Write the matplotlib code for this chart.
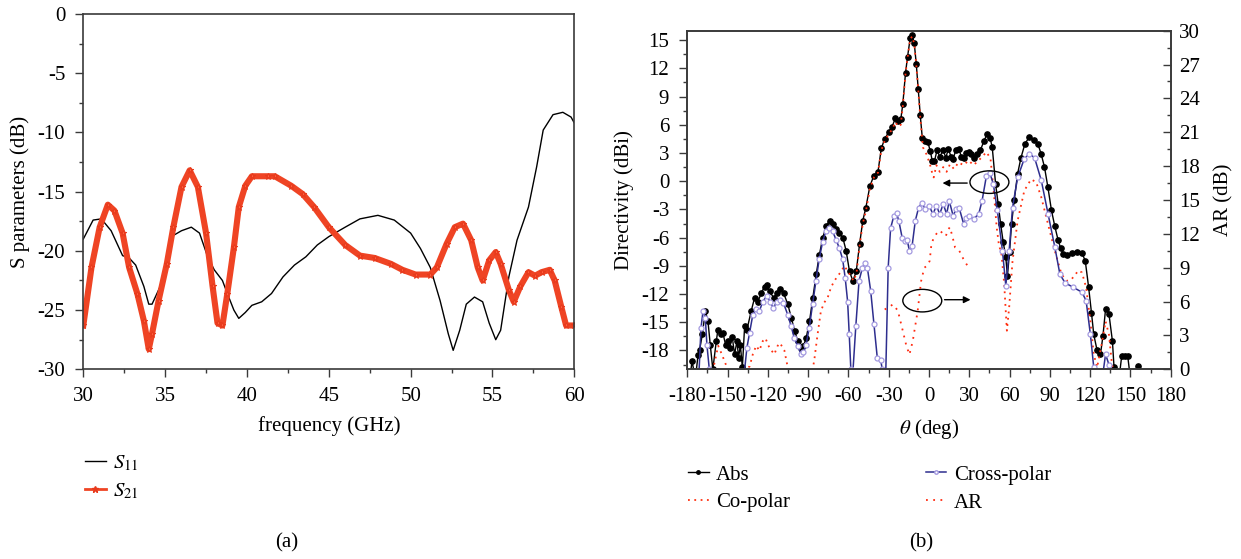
import matplotlib
matplotlib.use("Agg")
import matplotlib.pyplot as plt
from matplotlib.patches import Ellipse
from matplotlib.lines import Line2D
from matplotlib.ticker import MultipleLocator

plt.rcParams['font.family'] = ['Liberation Serif', 'DejaVu Serif']
plt.rcParams['mathtext.fontset'] = 'stix'
plt.rcParams['font.size'] = 15
plt.rcParams['axes.unicode_minus'] = False

# ---------------- data: (a) S parameters ----------------
s11_f = [30, 30.6, 31.1, 31.7, 32.4, 32.8, 33.2, 33.7, 34.0, 34.2, 34.7, 35.2, 35.5, 36.0, 36.6,
         37.1, 37.6, 38.0, 38.5, 38.8, 39.2, 39.5, 39.9, 40.3, 40.9, 41.5, 42.2, 42.9, 43.6, 44.3,
         45.0, 46.0, 46.9, 48.0, 49.0, 50.0, 50.6, 51.2, 51.8, 52.3, 52.6, 53.0, 53.4, 53.9, 54.4,
         54.8, 55.2, 55.5, 56.0, 56.5, 57.2, 57.7, 58.1, 58.7, 59.3, 59.8, 60.0]
s11_db = [-19.0, -17.4, -17.3, -18.3, -20.4, -20.6, -21.2, -23.0, -24.5, -24.5, -23.0, -20.2, -18.7,
          -18.3, -18.0, -18.5, -20.5, -21.6, -22.5, -23.6, -25.0, -25.7, -25.2, -24.6, -24.3, -23.6,
          -22.2, -21.2, -20.5, -19.5, -18.8, -18.0, -17.3, -17.0, -17.4, -18.5, -19.8, -21.4, -24.2,
          -27.0, -28.4, -26.7, -24.5, -23.9, -24.3, -26.1, -27.5, -26.7, -22.2, -19.1, -16.3, -12.9,
          -9.8, -8.5, -8.3, -8.7, -9.2]

s21_f = [30, 30.5, 31.0, 31.5, 31.9, 32.4, 32.8, 33.3, 33.7, 34.0, 34.2, 34.6, 35.1, 35.5, 36.0,
         36.5, 37.0, 37.5, 37.9, 38.2, 38.5, 38.8, 39.2, 39.5, 39.9, 40.3, 41.3, 41.7, 42.7, 43.4,
         44.1, 45.0, 46.0, 46.9, 47.8, 48.8, 49.5, 50.3, 51.2, 51.6, 52.2, 52.7, 53.2, 53.7, 54.1,
         54.4, 54.8, 55.2, 55.5, 56.0, 56.3, 56.7, 57.2, 57.6, 58.0, 58.5, 58.8, 59.2, 59.5, 60.0]
s21_db = [-26.3, -21.4, -18.0, -16.1, -16.6, -18.5, -21.4, -23.6, -25.9, -28.3, -27.0, -24.2, -21.1,
          -18.0, -14.6, -13.2, -14.6, -18.5, -23.0, -26.1, -26.3, -23.6, -19.7, -16.3, -14.5, -13.7,
          -13.7, -13.7, -14.5, -15.2, -16.3, -18.0, -19.5, -20.4, -20.6, -21.1, -21.6, -22.0, -22.0,
          -21.4, -19.4, -18.0, -17.7, -19.1, -21.4, -22.5, -20.8, -20.1, -21.1, -23.3, -24.3, -23.0,
          -21.8, -22.1, -21.8, -21.6, -22.5, -24.7, -26.3, -26.3]

# ---------------- data: (b) pattern ----------------
abs_t = [-178, -176.5, -174, -172, -170.8, -168.8, -166.6, -164.6, -162.9, -161, -158.4, -157.2,
         -154.7, -153.5, -151.5, -149.7, -148.5, -146.5, -144.8, -143, -141.8, -140.5, -139, -137.3,
         -135.6, -132.4, -129.9, -127.4, -124.9, -122.5, -120.7, -118.7, -115.7, -113.3, -110.8,
         -108.3, -105.1, -102.6, -100.1, -97.7, -95.2, -93.5, -91.5, -89, -86.5, -84, -81.6, -79.1,
         -76.6, -74.1, -71.6, -69.1, -66.7, -64.2, -61.7, -59.2, -56.7, -54.2, -51.7, -49.3, -47,
         -44, -41, -38, -35.5, -33, -30, -27.5, -25, -23, -21, -19.5, -17.5, -16, -14, -12.5, -11,
         -9.5, -8, -6.5, -5, -3, -1, 1, 2.5, 4, 6, 8, 10.6, 12.5, 14.4, 16.5, 18, 20, 22.4, 24,
         25.7, 27.5, 29.5, 31.5, 33.2, 35.5, 38.3, 41, 43.3, 45.5, 47.1, 49.6, 51.5, 53.4, 55.3,
         57.2, 58.4, 60, 61.5, 63.5, 66, 68.5, 71.5, 74.8, 78, 81, 83.5, 86, 88.5, 91.2, 93.7, 96.2,
         98, 100, 103, 106.3, 110, 113.9, 116.4, 118.9, 121, 122.7, 125.2, 127.7, 129.5, 131.5,
         134, 136.6, 137.8, 139, 141.5, 143.5, 146, 148, 150, 154, 156, 158]
abs_d = [-21, -19.1, -21, -18.5, -17.9, -16.3, -13.8, -14.9, -17.4, -20, -17, -15.8, -16.3, -16.1,
         -17.4, -17, -17.7, -16.6, -18.4, -17, -18.8, -17.4, -19.8, -15.4, -15.8, -13.8, -12.4,
         -12.8, -11.9, -11.2, -11.0, -11.7, -12.4, -11.9, -11.5, -11.9, -13.1, -14.5, -15.9, -17.0,
         -17.7, -17.5, -16.7, -14.9, -12.4, -9.9, -7.8, -6.0, -4.8, -4.2, -4.6, -5.1, -5.5, -6.0,
         -7.4, -9.6, -10.6, -9.6, -6.7, -4.2, -2.8, -0.5, 0.6, 1.0, 3.5, 4.5, 5.2, 5.8, 6.7, 6.4,
         6.6, 8.2, 11.5, 13.2, 15.2, 15.5, 14.7, 12.5, 9.8, 7.0, 4.6, 4.3, 4.2, 3.2, 2.1, 2.1, 3.3,
         2.6, 3.3, 2.5, 3.4, 2.6, 2.4, 3.3, 3.4, 2.6, 2.5, 3.0, 3.1, 2.9, 2.5, 2.9, 3.3, 4.3, 5.0,
         4.6, 3.6, -0.3, -2.4, -4.6, -6.5, -8.1, -10.1, -7.5, -4.5, -2.0, 0.8, 2.5, 4.0, 4.7, 4.4,
         4.0, 2.9, 1.5, -0.6, -3.1, -4.8, -6.3, -7.1, -7.7, -7.8, -7.6, -7.5, -7.6, -8.5, -11.3,
         -14.0, -16.3, -18.0, -18.4, -16.5, -13.6, -14.1, -17.0, -19.8, -21, -21, -18.6, -18.6,
         -18.6, -21, -21, -19.6, -21]

cross_t = [-175, -171.5, -169.8, -168.3, -166.6, -165.4, -163.6, -161, -138, -135.6, -133.6, -131.2,
           -128.7, -126.3, -123.8, -120.8, -118.4, -115.9, -113.4, -111, -108.5, -105.2, -102.7,
           -100.3, -97.8, -95.3, -93.6, -91.6, -89.2, -86.7, -84.2, -81.8, -79.3, -76.8, -74.3,
           -71.8, -69.3, -66.8, -64.3, -62.4, -60.6, -59.4, -58.2, -57, -54.5, -52.1, -49.6, -47.6,
           -45.9, -43.4, -41, -38.5, -36, -34.8, -32.3, -30.4, -28.6, -26.2, -24.2, -22.5, -20,
           -17.6, -16.3, -14.6, -12.6, -10.2, -7.7, -5.3, -2.8, 0, 3, 5.5, 8, 10.6, 13.1, 15.1, 18,
           20, 22.4, 25.7, 27.5, 29.5, 33.2, 37, 39.5, 42.8, 45.3, 47.9, 50.9, 54.7, 57.2, 59.7,
           62.2, 66, 71, 74.8, 78.6, 83.6, 88.7, 93.7, 97.5, 101.3, 107.6, 113.9, 117, 120.2,
           122.7, 124, 129, 131.5, 134, 136]
cross_d = [-21, -21, -15.6, -13.8, -14.5, -17.4, -20.0, -21, -21, -17.7, -16.1, -14.2, -13.6, -13.8,
           -12.8, -12.2, -12.8, -13.5, -12.8, -12.6, -12.9, -14.2, -15.4, -16.7, -17.5, -18.4,
           -18.2, -17.4, -15.6, -13.1, -10.6, -8.3, -6.5, -5.3, -5.0, -5.3, -6.2, -7.1, -8.3,
           -10.3, -12.8, -16.3, -20.0, -21, -15.4, -10.6, -9.2, -8.7, -9.2, -11.7, -15.2, -18.8,
           -19.0, -20.0, -21, -9.2, -5.0, -3.7, -3.4, -4.2, -6.0, -6.4, -6.2, -7.4, -6.9, -4.2, -2.8,
           -2.3, -3.0, -2.6, -3.5, -2.6, -3.5, -2.4, -3.5, -2.1, -3.7, -3.0, -2.8, -4.5, -3.9, -3.7,
           -4.0, -3.5, -2.1, 0.6, 0.9, -0.3, -3.1, -7.4, -11.1, -7.4, -2.8, 0.4, 2.4, 2.9, 2.5,
           0.1, -3.5, -7.0, -9.9, -10.8, -11.3, -11.8, -12.7, -16.3, -19.8, -21, -21, -18.4, -19.5,
           -21]

co_t = [-160, -157, -154, -151, -148, -133.6, -131.2, -128.7, -126.3, -123.8, -121.8, -118.9, -115.2,
        -112.7, -111, -107.7, -105.2, -102, -88, -85.5, -83, -80.5, -78, -75.5, -73, -70.5, -68,
        -65.5, -63, -60.5, -58, -56.2, -54, -51.7, -49.3, -47, -44, -41, -38, -35.5, -33, -30,
        -27.5, -25, -23, -21, -19.5, -17.5, -16, -14, -12.5, -11, -9.5, -8, -6.5, -4.5, -2, 0.5,
        2.5, 3.5, 5.5, 8, 10.6, 13.1, 15.6, 18.6, 22, 25.7, 29.5, 33.2, 38.3, 42.8, 45.8, 48.4,
        50.4, 52, 54, 56, 58, 59.7, 62.2, 66, 71, 76, 79.8, 83.6, 88.7, 93.7, 98.7, 102.5, 106.3,
        111.3, 113.9, 117, 120.2, 122.7, 125.2, 129, 131.5, 134, 136, 138]
co_d = [-19.5, -17.5, -18.5, -19.6, -21, -19.7, -18.4, -17.5, -18.0, -17.0, -16.7, -17.7, -18.4,
        -17.5, -17.2, -18.0, -19.8, -21, -21, -19.1, -16.3, -13.8, -12.9, -12.4, -11.3, -10.6,
        -10.1, -9.6, -9.0, -9.6, -10.1, -10.6, -9.8, -6.9, -4.5, -3.2, -0.8, 0.4, 0.9, 3.3, 4.3,
        5.0, 5.5, 6.3, 5.8, 6.0, 8.0, 11.4, 13.1, 15.1, 15.4, 14.6, 12.4, 9.7, 6.8, 3.6, 2.9, 1.9,
        0.8, 0.4, 1.7, 1.0, 1.5, 1.0, 1.8, 1.3, 2.0, 1.7, 2.2, 1.7, 2.4, 3.1, 2.4, -1.4, -4.9, -6.7,
        -7.8, -10.9, -15.9, -13.4, -8.5, -4.2, -1.0, 0.2, -0.1, -1.7, -4.6, -7.4, -9.9, -10.6,
        -10.4, -9.5, -9.7, -11.3, -14.9, -18.4, -19.8, -17.0, -14.9, -16.3, -19.1, -21]

ar_t = [-33, -30, -26.9, -23.2, -19.5, -17.1, -14.6, -12.1, -8.4, -5.9, -3.5, -1.2, 0.5, 1.8, 3.4,
        5.5, 8, 10.6, 12.5, 14.4, 15.6, 18, 19.4, 22, 23, 25.5, 28, 30]
ar_db = [5.3, 5.5, 5.75, 5.2, 3.4, 2.2, 1.3, 2.5, 5.2, 7.8, 9.0, 9.2, 9.6, 11.1, 11.6, 12.0, 12.3,
         12.0, 11.8, 12.4, 12.6, 11.5, 10.8, 10.6, 10.4, 9.8, 9.3, 9.0]

# ---------------- figure ----------------
W, H = 1241, 559
fig = plt.figure(figsize=(W / 100, H / 100), dpi=100)

def fx(px):
    return px / W

def fy(py):
    return 1 - py / H

spine_c = '#3a3a3a'
red_a = '#ef4424'
FS = 15

# (a)
ax1 = fig.add_axes([fx(83.3), fy(369.3), fx(574.3 - 83.3), (369.3 - 14) / H])
ax1.plot(s11_f, s11_db, color='black', lw=1.0)
ax1.plot(s21_f, s21_db, color=red_a, lw=4.4, marker='*', ms=5, mew=0.8,
         mfc='#ff6040', mec='#e83a1c', solid_joinstyle='round')
ax1.set_xlim(30, 60)
ax1.set_ylim(-30, 0)
ax1.xaxis.set_major_locator(MultipleLocator(5))
ax1.xaxis.set_minor_locator(MultipleLocator(2.5))
ax1.yaxis.set_major_locator(MultipleLocator(5))
ax1.yaxis.set_minor_locator(MultipleLocator(2.5))
ax1.set_xlabel('frequency (GHz)', fontsize=FS)
ax1.set_ylabel('S parameters (dB)', fontsize=FS)
ax1.xaxis.set_label_coords(0.5, -0.132)
ax1.yaxis.set_label_coords(-0.108, 0.5)
ax1.tick_params(which='major', direction='out', length=6, width=1, pad=7, color=spine_c, labelsize=FS)
ax1.tick_params(which='minor', direction='out', length=3, width=1, color=spine_c)
for s in ax1.spines.values():
    s.set_color(spine_c)
    s.set_linewidth(1.2)
h_s11 = Line2D([], [], color='black', lw=1.0)
h_s21 = Line2D([], [], color=red_a, lw=2.0, marker='*', ms=5, mfc='#e83a1c', mec='#e83a1c')
ax1.legend([h_s11, h_s21], [r'$S_{11}$', r'$S_{21}$'], loc='upper left',
           bbox_to_anchor=(fx(85), fy(454)), bbox_transform=fig.transFigure,
           frameon=False, borderpad=0, borderaxespad=0, handlelength=1.0, handletextpad=0.35,
           labelspacing=0.4, fontsize=FS)

# (b)
ax2 = fig.add_axes([fx(687.3), fy(369.3), fx(1170.7 - 687.3), (369.3 - 30.7) / H])
ax3 = ax2.twinx()
l_abs, = ax2.plot(abs_t, abs_d, color='black', lw=1.0, marker='o', ms=3.8, mfc='black', mec='black',
                  label='Abs')
l_co, = ax2.plot(co_t, co_d, color='#ff3010', lw=1.3, linestyle=(0, (1, 2.5)), label='Co-polar')
l_cr, = ax2.plot(cross_t, cross_d, color='#2e2e8e', lw=1.1, marker='o', ms=3.6, mfc='white',
                 mec='#a49ae0', mew=0.9, label='Cross-polar')
l_ar, = ax3.plot(ar_t, ar_db, color='#ff2a10', lw=1.3, linestyle=(0, (1, 3)), label='AR')
ax2.set_xlim(-180, 180)
ax2.set_ylim(-20, 16)
ax3.set_ylim(0, 30)
ax2.xaxis.set_major_locator(MultipleLocator(30))
ax2.xaxis.set_minor_locator(MultipleLocator(15))
ax2.set_yticks(list(range(-18, 16, 3)))
ax2.yaxis.set_minor_locator(MultipleLocator(1.5))
ax3.set_yticks(list(range(0, 31, 3)))
ax3.yaxis.set_minor_locator(MultipleLocator(1.5))
ax2.set_xlabel(r'$\theta$ (deg)', fontsize=FS)
ax2.set_ylabel('Directivity (dBi)', fontsize=FS)
ax3.set_ylabel('AR (dB)', fontsize=FS)
ax2.xaxis.set_label_coords(0.5, -0.142)
ax2.yaxis.set_label_coords(-0.11, 0.5)
ax3.yaxis.set_label_coords(1.09, 0.5)
ax2.tick_params(which='major', direction='out', length=6, width=1, pad=7, color=spine_c, labelsize=FS)
ax2.tick_params(which='minor', direction='out', length=3, width=1, color=spine_c)
ax3.tick_params(which='major', direction='in', length=6, width=1, pad=6, color=spine_c, labelsize=FS)
ax3.tick_params(which='minor', direction='in', length=3, width=1, color=spine_c)
for a in (ax2, ax3):
    for s in a.spines.values():
        s.set_color(spine_c)
        s.set_linewidth(1.2)

# annotations (ellipses with arrows)
ax2.add_patch(Ellipse((45, -0.1), 29, 2.4, fill=False, ec='black', lw=1.0, zorder=5))
ax2.annotate('', xy=(8, -0.2), xytext=(30.5, -0.2),
             arrowprops=dict(arrowstyle='-|>', color='black', lw=1.0, mutation_scale=10))
ax2.add_patch(Ellipse((-5, -12.7), 29, 2.4, fill=False, ec='black', lw=1.0, zorder=5))
ax2.annotate('', xy=(33, -12.6), xytext=(9.5, -12.6),
             arrowprops=dict(arrowstyle='-|>', color='black', lw=1.0, mutation_scale=10))

h_abs = Line2D([], [], color='black', lw=1.0, marker='o', ms=2.5, mfc='black', mec='black')
h_cr = Line2D([], [], color='#2e2e8e', lw=1.1, marker='o', ms=2.5, mfc='white', mec='#a49ae0')
fig.legend([h_abs, l_co, h_cr, l_ar], ['Abs', 'Co-polar', 'Cross-polar', 'AR'],
           loc='upper left', ncol=2,
           bbox_to_anchor=(fx(688), fy(465)), bbox_transform=fig.transFigure, frameon=False,
           borderpad=0, borderaxespad=0, handlelength=1.0, handletextpad=0.35, labelspacing=0.4,
           columnspacing=6.5, fontsize=FS)

fig.text(fx(287), fy(543), '(a)', ha='center', va='center', fontsize=FS)
fig.text(fx(921), fy(543), '(b)', ha='center', va='center', fontsize=FS)

fig.savefig('out.png', dpi=100)
